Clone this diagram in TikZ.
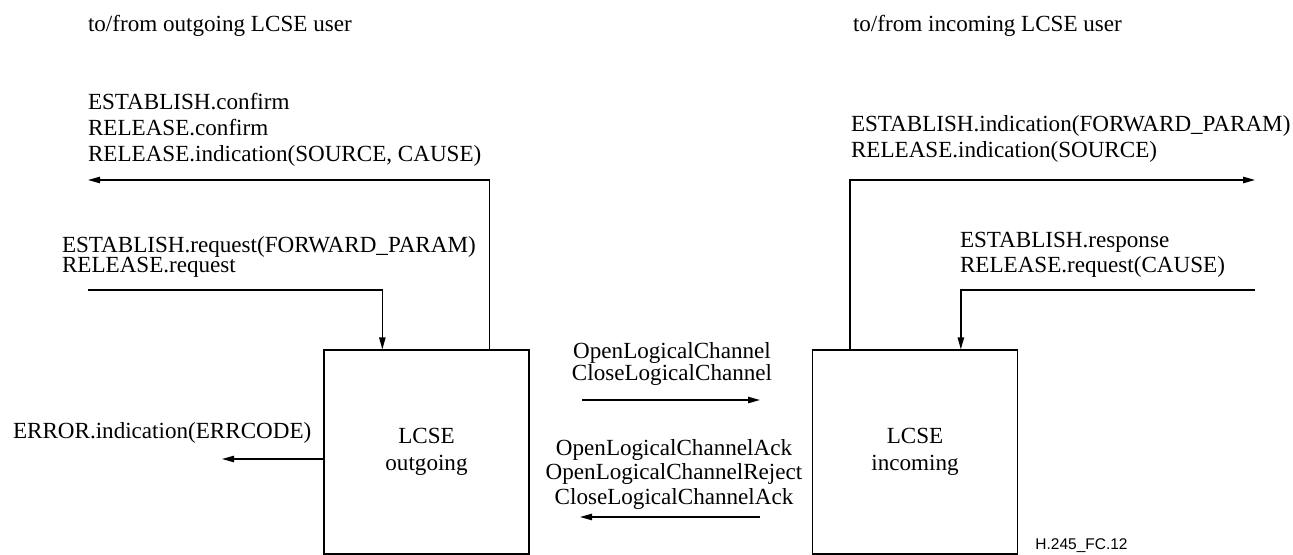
\documentclass[tikz,border=0pt]{standalone}
\usepackage{fontspec}
\setmainfont{Liberation Serif}
\newfontfamily\figfont{Liberation Sans}
\usetikzlibrary{arrows.meta,calc}
\tikzset{
  txt/.style={inner sep=0pt,outer sep=0pt,align=left,anchor=base west,font=\fontsize{11.55}{13}\selectfont},
  ctxt/.style={inner sep=0pt,outer sep=0pt,align=center,anchor=base,font=\fontsize{11.55}{13}\selectfont},
  lcse/.style={draw,line width=0.65pt,minimum width=102.5pt,minimum height=102pt,inner sep=0pt,align=center,font=\fontsize{11.55}{13.5}\selectfont},
  arr/.style={line width=0.65pt,-{Triangle[length=6pt,width=3.2pt]}},
}
\begin{document}
\begin{tikzpicture}[x=0.5pt,y=-0.5pt]
\useasboundingbox (0,0) rectangle (1293,555);
% boxes
\node[lcse] (boxL) at (426.5,452) {LCSE\\outgoing};
\node[lcse] (boxR) at (915,452) {LCSE\\incoming};
% headers
\node[txt] (hL) at (88,32) {to/from outgoing LCSE user};
\node[txt] (hR) at (853,32) {to/from incoming LCSE user};
% texts (base anchor = baseline of the last line)
\node[txt,font=\fontsize{11.55}{13}\selectfont] (tConf) at (88,162) {ESTABLISH.confirm\\RELEASE.confirm\\RELEASE.indication(SOURCE, CAUSE)};
\node[txt,font=\fontsize{11.55}{10.25}\selectfont] (tReq) at (62,273) {ESTABLISH.request(FORWARD\_PARAM)\\RELEASE.request};
\node[txt,font=\fontsize{11.55}{13}\selectfont] (tInd) at (851,158) {ESTABLISH.indication(FORWARD\_PARAM)\\RELEASE.indication(SOURCE)};
\node[txt,font=\fontsize{11.55}{12.5}\selectfont] (tRsp) at (960,272) {ESTABLISH.response\\RELEASE.request(CAUSE)};
\node[txt] (tErr) at (13,438) {ERROR.indication(ERRCODE)};
\node[ctxt,font=\fontsize{11.55}{11}\selectfont] (tOpen) at (672,380) {OpenLogicalChannel\\CloseLogicalChannel};
\node[ctxt,font=\fontsize{11.55}{12.25}\selectfont] (tAck) at (674,504) {OpenLogicalChannelAck\\OpenLogicalChannelReject\\CloseLogicalChannelAck};
\node[anchor=base west,inner sep=0pt,font=\figfont\fontsize{7.75}{8}\selectfont] (fig) at (1035,549) {H.245\_FC.12};
% free ends
\coordinate (eConf) at (88,180);
\coordinate (sReq) at (88,290);
\coordinate (eInd) at (1255,180);
\coordinate (sRsp) at (1255,290);
\coordinate (mA1) at (582,400);
\coordinate (mA2) at (760,400);
\coordinate (mB1) at (760,517);
\coordinate (mB2) at (580,517);
\coordinate (eErr) at (222,459);
% connectors
\draw[arr] ($(boxL.north west)+(166,0)$) |- (eConf);
\draw[arr] (sReq) -| ($(boxL.north west)+(59,0)$);
\draw[arr] ($(boxR.north west)+(38,0)$) |- (eInd);
\draw[arr] (sRsp) -| ($(boxR.north west)+(149,0)$);
\draw[arr] (mA1) -- (mA2);
\draw[arr] (mB1) -- (mB2);
\draw[arr] ($(boxL.west)+(0,7)$) -- (eErr);
\end{tikzpicture}
\end{document}
